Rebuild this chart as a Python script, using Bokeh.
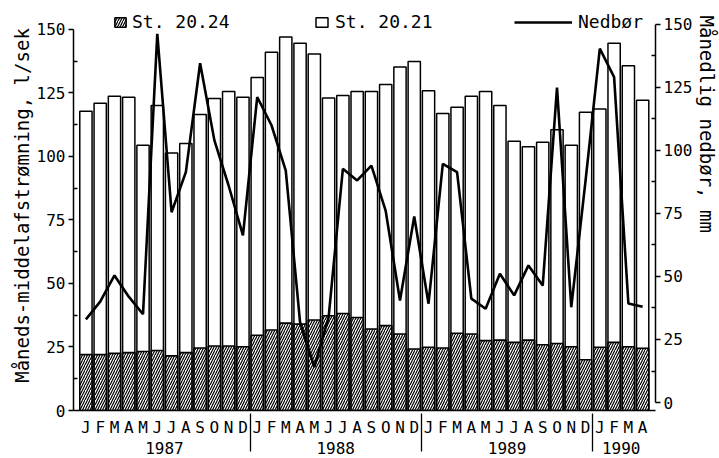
from bokeh.plotting import figure
from bokeh.models import (Range1d, LinearAxis, FixedTicker, ColumnDataSource,
                          Legend, LegendItem, Title)
from bokeh.embed import file_html
from bokeh.resources import INLINE

# ---------------- data ----------------
months = ["J", "F", "M", "A", "M", "J", "J", "A", "S", "O", "N", "D"] * 3 + ["J", "F", "M", "A"]
years = ["1987", "1988", "1989", "1990"]
year_centers = [5.5, 17.5, 29.5, 37.5]
year_separators = [11.5, 23.5, 35.5]

st_2021 = [117.8, 121.0, 123.7, 123.3, 104.4, 120.1, 101.4, 105.1, 116.5, 122.8, 125.6, 123.3,
           131.1, 141.0, 147.0, 144.6, 140.3, 123.0, 124.0, 125.6, 125.6, 128.3, 135.2, 137.4,
           125.9, 116.9, 119.4, 123.7, 125.6, 120.1, 106.0, 103.8, 105.6, 110.5, 104.4, 117.4,
           118.7, 144.6, 135.7, 122.1]

st_2024 = [22.0, 22.0, 22.5, 22.8, 23.2, 23.6, 21.5, 22.8, 24.6, 25.4, 25.4, 25.1,
           29.6, 31.7, 34.4, 34.0, 35.6, 37.3, 38.2, 36.6, 32.1, 33.4, 30.1, 24.2,
           24.9, 24.6, 30.4, 30.1, 27.5, 27.7, 26.8, 27.7, 25.9, 26.4, 25.1, 20.0,
           24.9, 26.8, 25.1, 24.5]

nedbor = [33.0, 40.0, 50.4, 42.0, 35.0, 146.3, 75.5, 91.4, 134.6, 104.0, 86.0, 66.3,
          121.2, 110.0, 92.0, 31.9, 14.0, 33.8, 92.7, 88.1, 94.0, 76.0, 40.5, 73.8,
          39.2, 94.7, 91.4, 41.2, 37.2, 51.1, 42.5, 54.4, 46.4, 124.9, 37.8, 88.0,
          140.4, 129.1, 39.3, 38.0]

y_ticks = [0, 25, 50, 75, 100, 125, 150]
y_minor = [12.5, 37.5, 62.5, 87.5, 112.5, 137.5]

FONT = "DejaVu Sans Mono"

x = list(range(len(months)))
src = ColumnDataSource(dict(x=x, st2021=st_2021, st2024=st_2024, ned=nedbor))

p = figure(width=719, height=458, output_backend="svg", toolbar_location=None,
           x_range=Range1d(-0.87, 39.9), y_range=Range1d(0, 161.4),
           min_border_left=73, min_border_right=61, min_border_top=0, min_border_bottom=48)
p.extra_y_ranges = {"rain": Range1d(-3.17, 159.5)}
p.xgrid.visible = False
p.ygrid.visible = False
p.outline_line_color = None
p.background_fill_color = "white"
p.border_fill_color = "white"

# bars and line
r_white = p.vbar(x="x", top="st2021", width=0.86, bottom=0, source=src,
                 fill_color="white", line_color="black", line_width=1.5)
r_hatch = p.vbar(x="x", top="st2024", width=0.86, bottom=0, source=src,
                 fill_color="white", line_color="black", line_width=1.6,
                 hatch_pattern="/", hatch_color="black", hatch_scale=5, hatch_weight=1.2)
r_line = p.line(x="x", y="ned", source=src, y_range_name="rain",
                line_color="black", line_width=2.6)


def style_axis(ax, size="16px"):
    ax.axis_line_color = "black"
    ax.axis_line_width = 1.5
    ax.major_tick_line_color = "black"
    ax.major_tick_line_width = 1.5
    ax.minor_tick_line_color = "black"
    ax.minor_tick_line_width = 1.5
    ax.major_label_text_font = FONT
    ax.major_label_text_font_size = size
    ax.major_label_text_color = "black"
    ax.axis_label_text_font = FONT
    ax.axis_label_text_font_size = "19px"
    ax.axis_label_text_font_style = "normal"
    ax.axis_label_text_color = "black"


# left axis
yl = p.yaxis[0]
style_axis(yl)
yl.ticker = FixedTicker(ticks=y_ticks, minor_ticks=y_minor)
yl.bounds = (0, 150)
yl.major_tick_out = 5
yl.major_tick_in = 0
yl.minor_tick_out = 0
yl.minor_tick_in = 4
yl.major_label_standoff = 3
yl.axis_label = "Måneds-middelafstrømning, l/sek"
yl.axis_label_standoff = 1

# right axis
yr = LinearAxis(y_range_name="rain", ticker=FixedTicker(ticks=y_ticks, minor_ticks=y_minor))
style_axis(yr)
yr.bounds = (0, 150)
yr.major_tick_out = 5
yr.major_tick_in = 0
yr.minor_tick_out = 0
yr.minor_tick_in = 4
yr.major_label_standoff = 3
p.add_layout(yr, "right")

# right axis title, in the upper part, reading downward
p.add_layout(Title(text="Månedlig nedbør, mm", align="left", offset=15, standoff=0,
                   text_font=FONT, text_font_size="19px", text_font_style="normal",
                   text_color="black"), "right")

# bottom axis: month letters
xa = p.xaxis[0]
style_axis(xa)
xa.ticker = FixedTicker(ticks=x)
xa.major_label_overrides = {i: m for i, m in enumerate(months)}
xa.major_tick_out = 0
xa.major_tick_in = 0
xa.minor_tick_out = 0
xa.minor_tick_in = 0
xa.major_label_standoff = 7

# second bottom axis: years, year separators as minor ticks
xy = LinearAxis(ticker=FixedTicker(ticks=year_centers, minor_ticks=year_separators))
style_axis(xy)
xy.axis_line_color = None
xy.major_label_overrides = {c: t for c, t in zip(year_centers, years)}
xy.major_tick_out = 0
xy.major_tick_in = 0
xy.minor_tick_in = 26
xy.minor_tick_out = 12
xy.minor_tick_line_width = 1.3
xy.major_label_standoff = -10
p.add_layout(xy, "below")


# legends (one per item so that each sits where the original has it)
def make_legend(label, rend, loc, gw, gh, standoff):
    lg = Legend(items=[LegendItem(label=label, renderers=[rend])], location=loc,
                orientation="horizontal", border_line_color=None,
                background_fill_alpha=0, padding=0, margin=0, spacing=0,
                label_text_font=FONT, label_text_font_size="18px",
                label_text_color="black", glyph_width=gw, glyph_height=gh,
                label_standoff=standoff, label_height=14)
    p.add_layout(lg)


make_legend("St. 20.24", r_hatch, (40, 378), 14, 12, 5)
make_legend("St. 20.21", r_white, (241, 378), 15, 12, 6)
make_legend("Nedbør", r_line, (441, 378), 58, 12, 6)

open("out.html", "w").write(file_html(p, INLINE))
